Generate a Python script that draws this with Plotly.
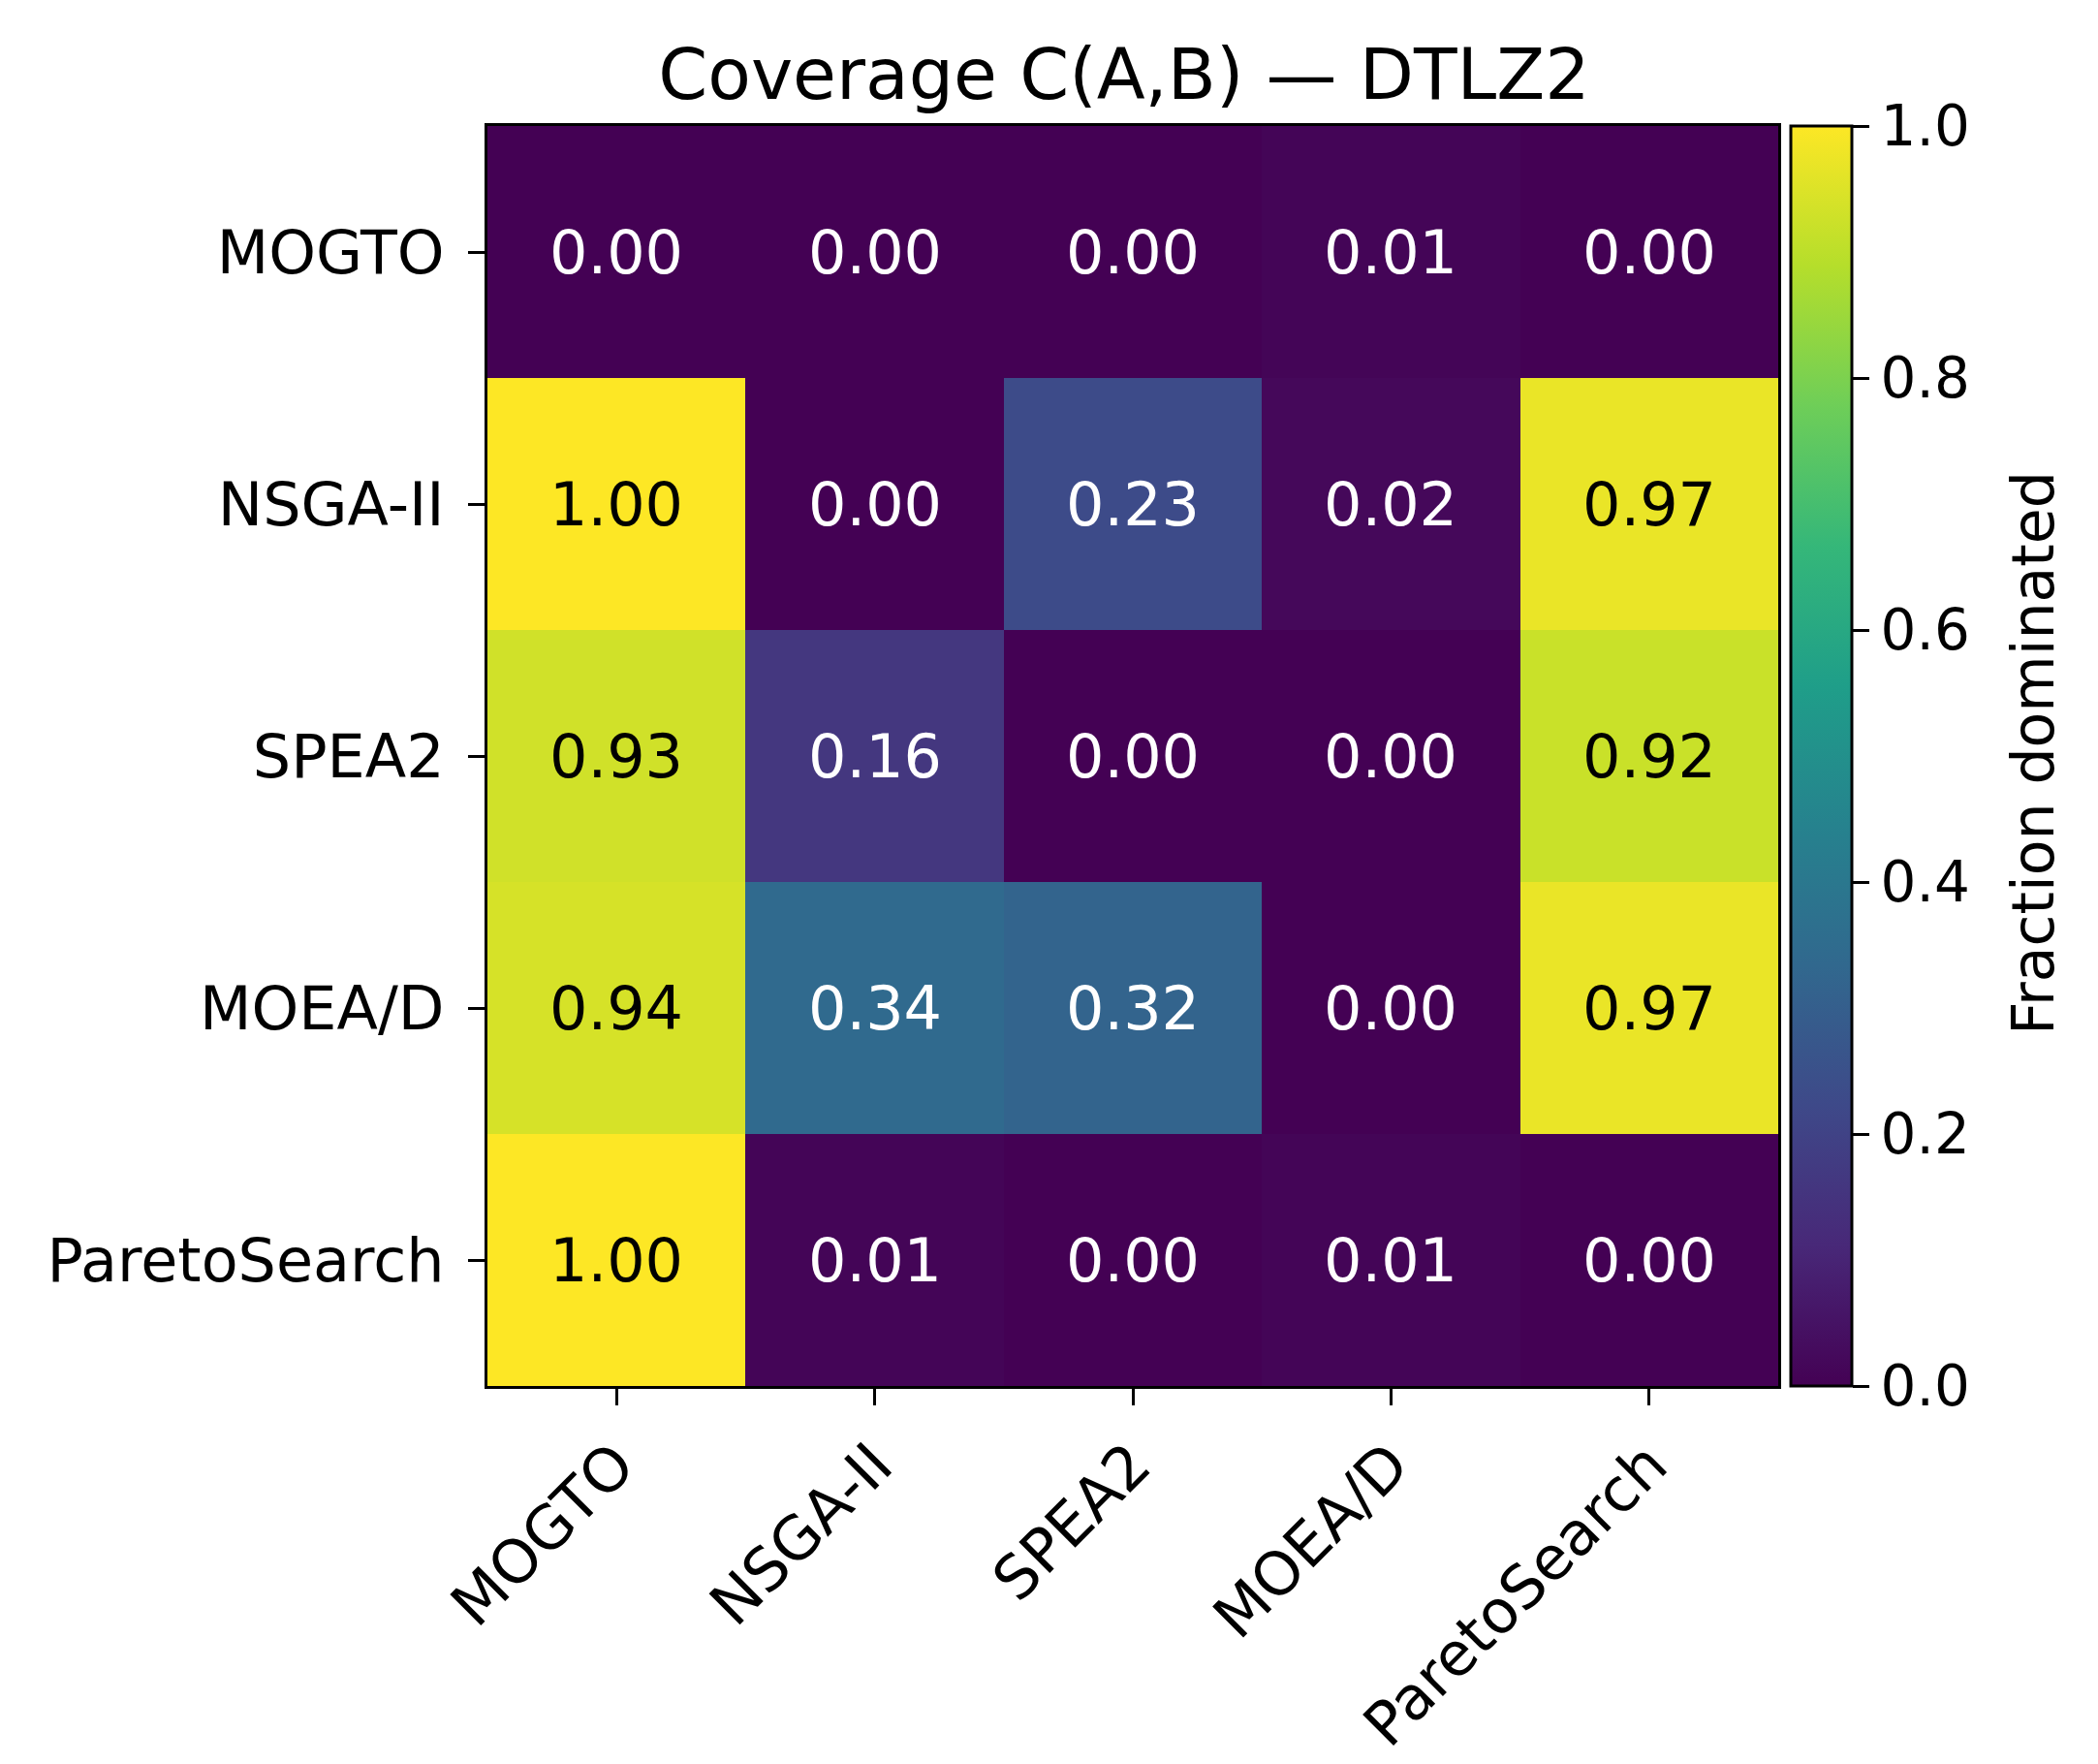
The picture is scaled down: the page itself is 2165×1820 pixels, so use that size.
import plotly.graph_objects as go

# Coverage C(A,B): row = A, column = B
algorithms = ["MOGTO", "NSGA-II", "SPEA2", "MOEA/D", "ParetoSearch"]

row_mogto = [0.00, 0.00, 0.00, 0.01, 0.00]
row_nsga2 = [1.00, 0.00, 0.23, 0.02, 0.97]
row_spea2 = [0.93, 0.16, 0.00, 0.00, 0.92]
row_moead = [0.94, 0.34, 0.32, 0.00, 0.97]
row_pareto = [1.00, 0.01, 0.00, 0.01, 0.00]

coverage = [row_mogto, row_nsga2, row_spea2, row_moead, row_pareto]

cbar_ticks = [0.0, 0.2, 0.4, 0.6, 0.8, 1.0]

W, H = 2165, 1820
L, R, T, B = 495, 338, 122, 380
FONT = "DejaVu Sans"
plot_w = W - L - R
plot_h = H - T - B

fig = go.Figure()
fig.add_trace(go.Heatmap(
    z=coverage,
    x=algorithms,
    y=algorithms,
    colorscale="Viridis",
    zmin=0, zmax=1,
    hoverinfo="skip",
    colorbar=dict(
        x=1 + 13 / plot_w, xanchor="left", xref="paper", xpad=0,
        y=0.5, yanchor="middle", len=1.0, lenmode="fraction", ypad=0,
        thickness=63, thicknessmode="pixels",
        outlinewidth=3, outlinecolor="black",
        tickvals=cbar_ticks, tickformat=".1f",
        ticks="outside", ticklen=17, tickwidth=3, tickcolor="black",
        tickfont=dict(family=FONT, size=58, color="black"),
    ),
))

# cell annotations
for i, row in enumerate(coverage):
    for j, v in enumerate(row):
        fig.add_annotation(
            x=algorithms[j], y=algorithms[i], xref="x", yref="y",
            text=f"{v:.2f}", showarrow=False,
            font=dict(family=FONT, size=62, color="black" if v > 0.5 else "white"),
        )

# colorbar label
fig.add_annotation(
    x=(2090 - L) / plot_w, y=1 - (778 - T) / plot_h, xref="paper", yref="paper",
    text="Fraction dominated", textangle=-90, showarrow=False,
    xanchor="center", yanchor="middle",
    font=dict(family=FONT, size=60, color="black"),
)

fig.update_xaxes(
    tickangle=-45, ticks="outside", ticklen=17, tickwidth=3, tickcolor="black",
    tickfont=dict(family=FONT, size=62, color="black"),
    showline=True, linecolor="black", linewidth=3, mirror=True,
    showgrid=False, zeroline=False,
)
fig.update_yaxes(
    autorange="reversed", ticks="outside", ticklen=17, tickwidth=3, tickcolor="black",
    tickfont=dict(family=FONT, size=62, color="black"), ticklabelstandoff=12,
    showline=True, linecolor="black", linewidth=3, mirror=True,
    showgrid=False, zeroline=False,
)

fig.update_layout(
    width=W, height=H,
    margin=dict(l=L, r=R, t=T, b=B),
    paper_bgcolor="white", plot_bgcolor="white",
    title=dict(text="Coverage C(A,B) — DTLZ2", x=(1152 - L) / plot_w, xref="paper",
               y=1 - 68 / H, yref="container", xanchor="center", yanchor="middle",
               font=dict(family=FONT, size=73, color="black")),
)

fig.write_html("out.html")
